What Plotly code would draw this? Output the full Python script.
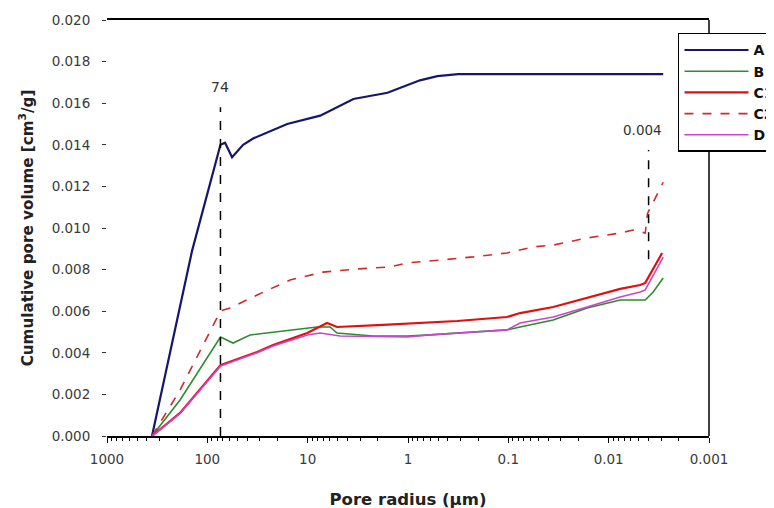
import math
import plotly.graph_objects as go

# ---- data (pore radius in µm, cumulative pore volume in cm3/g) ----
A_x = [356, 142, 74, 66.6, 56.7, 44, 35, 16, 7.5, 3.5, 1.6, 0.76, 0.51, 0.316, 0.00286]
A_y = [0, 0.0089, 0.0140, 0.0141, 0.0134, 0.0140, 0.0143, 0.0150, 0.0154, 0.0162,
       0.0165, 0.0171, 0.0173, 0.0174, 0.0174]

B_x = [356, 187, 74, 55.4, 37.5, 22.1, 14.0, 8.06, 5.98, 5.09, 2.23, 1.02, 0.602, 0.224,
       0.103, 0.0763, 0.0357, 0.0164, 0.00768, 0.00432, 0.0036, 0.00286]
B_y = [0, 0.00173, 0.00476, 0.00447, 0.00486, 0.0050, 0.0051, 0.00524, 0.00524, 0.00495,
       0.00481, 0.00481, 0.00486, 0.0050, 0.0051, 0.00524, 0.00558, 0.00615, 0.00654,
       0.00654, 0.00692, 0.0076]

C1_x = [356, 187, 74, 47.2, 31.9, 22.1, 14.0, 10.1, 6.41, 5.09, 1.77, 0.324, 0.103, 0.0763,
        0.0357, 0.0164, 0.00768, 0.00485, 0.00432, 0.00293]
C1_y = [0, 0.00111, 0.00341, 0.00375, 0.00404, 0.00438, 0.00471, 0.00495, 0.00543, 0.00524,
        0.00534, 0.00553, 0.00572, 0.00591, 0.0062, 0.00663, 0.00707, 0.00726, 0.00736, 0.0088]

C2_x = [356, 187, 74, 59.4, 31.9, 15.0, 7.02, 3.22, 1.51, 1.02, 0.479, 0.224, 0.103, 0.0763,
        0.0566, 0.0357, 0.0164, 0.00768, 0.0057, 0.00432, 0.0041, 0.00286]
C2_y = [0, 0.00221, 0.00601, 0.00615, 0.00678, 0.0075, 0.00788, 0.00803, 0.00813, 0.00832,
        0.00846, 0.00861, 0.0088, 0.00894, 0.00909, 0.00918, 0.00952, 0.00976, 0.0099,
        0.00976, 0.0107, 0.0122]

D_x = [356, 187, 74, 47.2, 31.9, 22.1, 14.0, 10.1, 7.5, 4.75, 1.02, 0.602, 0.224, 0.103,
       0.0763, 0.0357, 0.0164, 0.00768, 0.00485, 0.00432, 0.00286]
D_y = [0, 0.00108, 0.00336, 0.00370, 0.00400, 0.00433, 0.00466, 0.00486, 0.00495, 0.00481,
       0.00476, 0.00486, 0.0050, 0.0051, 0.00543, 0.00572, 0.0062, 0.00668, 0.00692,
       0.00702, 0.0086]

marker1_x = 74
marker1_label = "74"
marker1_span = [0.0, 0.0158]
marker2_x = 0.004
marker2_label = "0.004"
marker2_span = [0.0085, 0.01375]

x_tickvals = [1000, 100, 10, 1, 0.1, 0.01, 0.001]
x_ticktext = ["1000", "100", "10", "1", "0.1", "0.01", "0.001"]
y_tickvals = [0, 0.002, 0.004, 0.006, 0.008, 0.010, 0.012, 0.014, 0.016, 0.018, 0.020]

minor_vals = [m * 10 ** e for e in range(-3, 3) for m in range(2, 10)]

FONT = "DejaVu Sans, Verdana, sans-serif"

fig = go.Figure()
series = [
    ("A", A_x, A_y, "#16166c", 2.2, "solid"),
    ("B", B_x, B_y, "#2e8b2e", 1.6, "solid"),
    ("C1", C1_x, C1_y, "#e01010", 2.2, "solid"),
    ("C2", C2_x, C2_y, "#d02a2a", 1.6, "dash"),
    ("D", D_x, D_y, "#cc44cc", 1.6, "solid"),
]
for name, xs, ys, col, w, dash in series:
    fig.add_trace(go.Scatter(x=xs, y=ys, mode="lines", name="<b>" + name + "</b>",
                             line=dict(color=col, width=w, dash=dash)))

# dashed marker lines
for mx, span in [(marker1_x, marker1_span), (marker2_x, marker2_span)]:
    fig.add_trace(go.Scatter(x=[mx, mx], y=span, mode="lines", showlegend=False,
                             line=dict(color="black", width=1.5, dash="dash"),
                             hoverinfo="skip"))

fig.add_annotation(x=math.log10(marker1_x), y=marker1_span[1], xref="x", yref="y",
                   text=marker1_label, showarrow=False, yshift=20,
                   font=dict(family=FONT, size=14, color="#333"))
fig.add_annotation(x=math.log10(marker2_x), y=marker2_span[1], xref="x", yref="y",
                   text=marker2_label, showarrow=False, yshift=20, xshift=-6,
                   font=dict(family=FONT, size=13.5, color="#333"))

# right frame line
fig.add_shape(type="line", xref="paper", yref="paper", x0=1, x1=1, y0=0, y1=1,
              line=dict(color="black", width=1.5), layer="below")

fig.update_layout(
    width=774, height=508,
    margin=dict(l=99, r=73, t=12, b=80, autoexpand=False),
    plot_bgcolor="white", paper_bgcolor="white",
    font=dict(family=FONT, size=13, color="#333"),
    xaxis=dict(
        type="log", range=[3, -3], autorange=False,
        tickmode="array", tickvals=x_tickvals, ticktext=x_ticktext,
        ticks="outside", ticklen=5, tickwidth=1.2, tickcolor="black",
        ticklabelstandoff=5,
        showline=True, linecolor="black", linewidth=1.5, mirror=True,
        showgrid=False, zeroline=False,
        minor=dict(tickmode="array", tickvals=minor_vals, ticks="outside",
                   ticklen=3, tickcolor="black", showgrid=False),
        tickfont=dict(family=FONT, size=13.5, color="#3a3a3a"),
        title=dict(text="<b>Pore radius (µm)</b>", standoff=27,
                   font=dict(family=FONT, size=16.5, color="#222")),
    ),
    yaxis=dict(
        range=[0, 0.020], autorange=False,
        tickmode="array", tickvals=y_tickvals, tickformat=".3f",
        ticks="outside", ticklen=4, tickwidth=1.2, tickcolor="#333",
        ticklabelstandoff=9,
        showline=False, showgrid=False, zeroline=False,
        tickfont=dict(family=FONT, size=13.5, color="#3a3a3a"),
        title=dict(text="<b>Cumulative pore volume [cm<sup>3</sup>/g]</b>", standoff=14,
                   font=dict(family=FONT, size=15.2, color="#222")),
    ),
    legend=dict(x=0.9485, y=0.969, xanchor="left", yanchor="top",
                bgcolor="white", bordercolor="black", borderwidth=1.5,
                itemwidth=64, font=dict(family=FONT, size=14, color="#111"),
                tracegroupgap=0),
    showlegend=True,
)

fig.write_html("out.html")
